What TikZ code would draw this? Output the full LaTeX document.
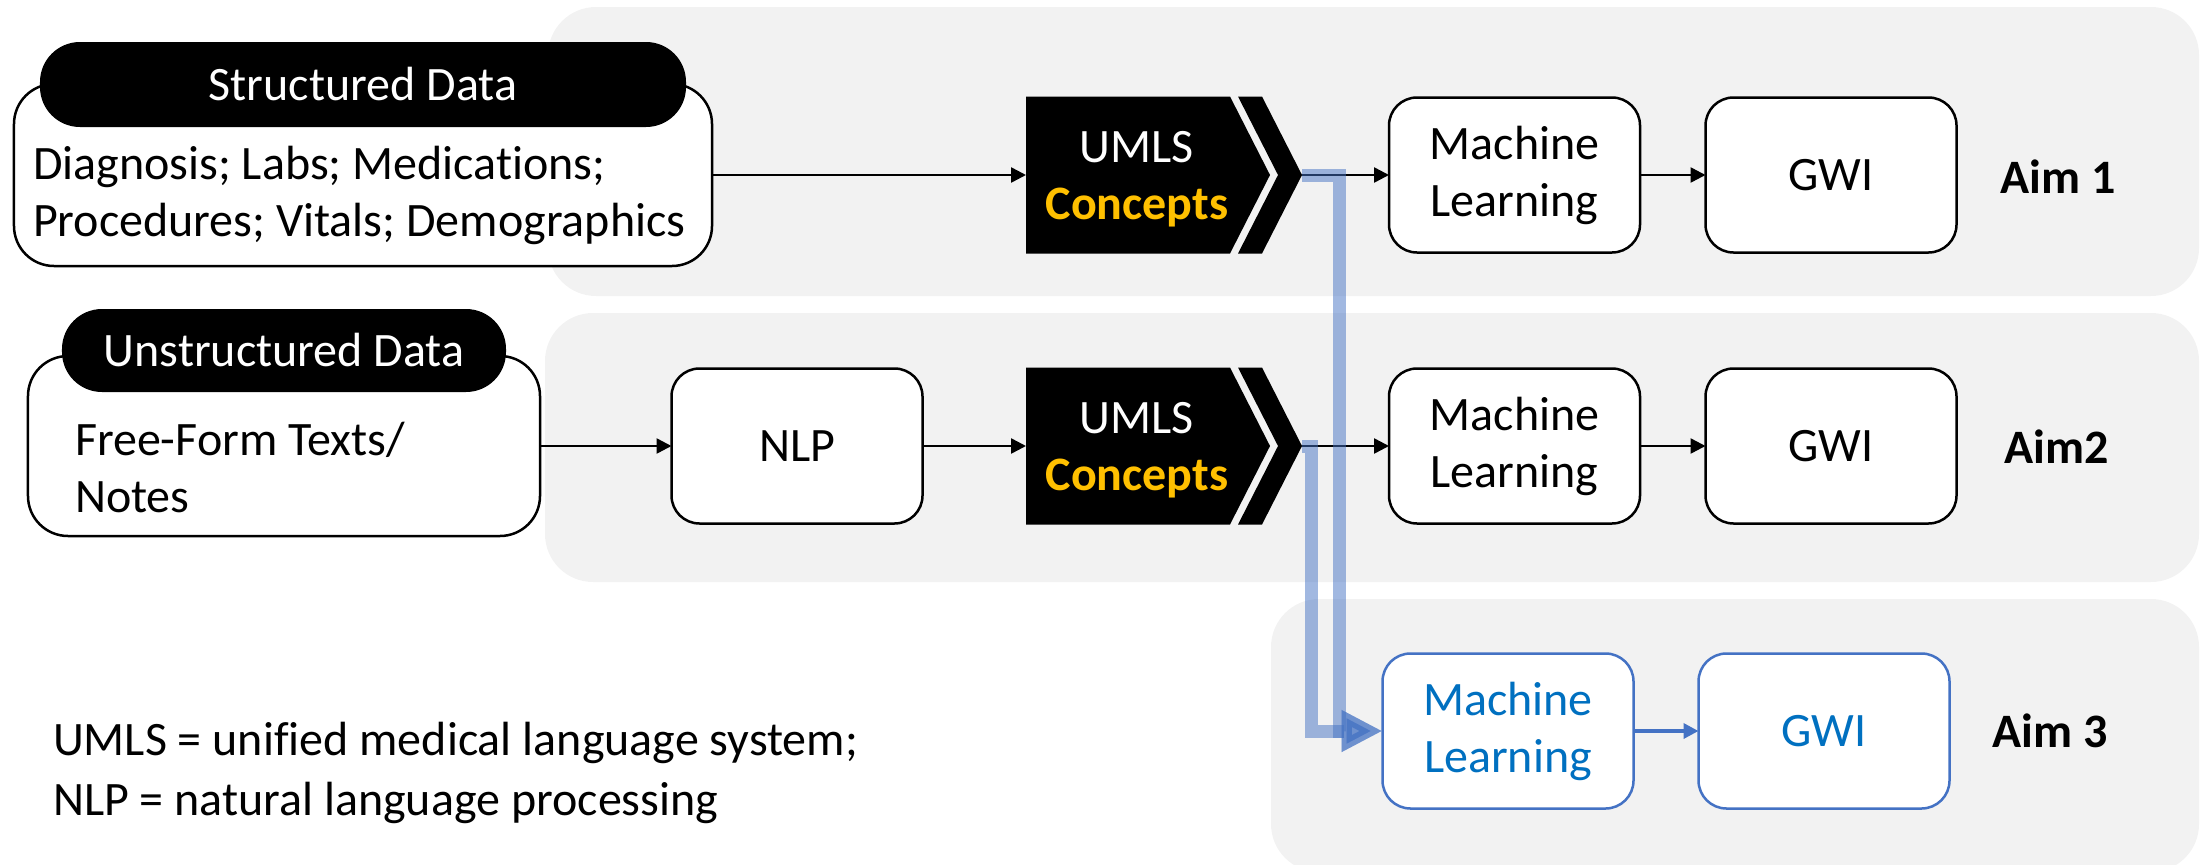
\documentclass[tikz,border=0pt]{standalone}
\usepackage{fontspec}
\setmainfont{Carlito}[Ligatures=NoCommon]
\usetikzlibrary{arrows.meta}
\definecolor{panelgray}{HTML}{F2F2F2}
\definecolor{accblue}{HTML}{4472C4}
\definecolor{txtblue}{HTML}{0070C0}
\definecolor{conceptgold}{HTML}{FFC000}
\begin{document}
\begin{tikzpicture}[x=1bp, y=-1bp,
  every node/.style={font=\fontsize{48bp}{57bp}\selectfont, inner sep=0pt, outer sep=0pt},
  panel/.style={fill=panelgray, rounded corners=48bp},
  stage/.style={draw=black, line width=2.5bp, fill=white, rounded corners=28bp,
    minimum width=251bp, minimum height=155bp, align=center},
  stageblue/.style={stage, draw=accblue, text=txtblue},
  source/.style={draw=black, line width=2.5bp, fill=white, rounded corners=40bp},
  pill/.style={fill=black, text=white, rounded corners=40bp},
  flow/.style={line width=2.5bp, -{Triangle[length=15bp,width=15bp]}},
  flowblue/.style={flow, draw=accblue, line width=3.5bp},
  merge/.style={draw=accblue, opacity=0.5, line width=13bp,
    -{Triangle[length=41bp,width=39bp]}},
  aim/.style={font=\fontsize{48bp}{57bp}\selectfont\bfseries},
  chevron/.pic={
    \fill[black] (-111,-78.5) -- (93,-78.5) -- (133,0) -- (93,78.5) -- (-111,78.5) -- cycle;
    \fill[black] (101,-78.5) -- (125,-78.5) -- (165,0) -- (125,78.5) -- (101,78.5) -- (141,0) -- cycle;
  }
]
\useasboundingbox (0,0) rectangle (2203,864);

% background bands, one per aim
\fill[panel] (548,7) rectangle (2199,296);
\fill[panel] (545,313) rectangle (2199,582);
\fill[panel] (1271,599) rectangle (2199,872);

% data sources
\node[source, minimum width=698bp, minimum height=182bp] (sbox) at (363,175) {};
\node[pill, minimum width=646bp, minimum height=85bp] (spill) at (363,84.5) {Structured Data};
\node[anchor=base west, align=left] (sitems) at (33,236) {Diagnosis; Labs; Medications;\\Procedures; Vitals; Demographics};

\node[source, minimum width=512bp, minimum height=180bp] (ubox) at (284,446) {};
\node[pill, minimum width=444bp, minimum height=83bp] (upill) at (284,350.5) {Unstructured Data};
\node[anchor=base west, align=left] (uitems) at (75,512) {Free-Form Texts/\\Notes};

\node[stage] (nlp) at (797,446) {NLP};

% UMLS concept mapping
\pic at (1137,175) {chevron};
\coordinate (c1in) at (1026,175);
\coordinate (c1out) at (1302,175);
\node[align=center, text=white] (c1txt) at (1137,179) {UMLS\\\textcolor{conceptgold}{\bfseries Concepts}};

\pic at (1137,446) {chevron};
\coordinate (c2in) at (1026,446);
\coordinate (c2out) at (1302,446);
\node[align=center, text=white] (c2txt) at (1137,450) {UMLS\\\textcolor{conceptgold}{\bfseries Concepts}};

% models and outcomes
\node[stage] (ml1) at (1514.5,175) {Machine\\Learning};
\node[stage] (gwi1) at (1831,175) {GWI};
\node[aim] (aim1) at (2058,177) {Aim 1};

\node[stage] (ml2) at (1514.5,446) {Machine\\Learning};
\node[stage] (gwi2) at (1831,446) {GWI};
\node[aim] (aim2) at (2057,447) {Aim2};

\node[stageblue] (ml3) at (1508,731) {Machine\\Learning};
\node[stageblue] (gwi3) at (1824,731) {GWI};
\node[aim] (aim3) at (2050,731) {Aim 3};

% flow connectors
\draw[flow] (sbox.east) -- (c1in);
\draw[flow] (c1out) -- (ml1.west);
\draw[flow] (ml1.east) -- (gwi1.west);
\draw[flow] (ubox.east) -- (nlp.west);
\draw[flow] (nlp.east) -- (c2in);
\draw[flow] (c2out) -- (ml2.west);
\draw[flow] (ml2.east) -- (gwi2.west);
\draw[flowblue] (ml3.east) -- (gwi3.west);

% combined concepts feeding aim 3
\coordinate (busA) at (1311,0);
\coordinate (busB) at (1339.5,0);
\draw[merge] (c2out) -| (busA |- ml3.west) -- (ml3.west);
\draw[merge] (c1out) -| (busB |- ml3.west) -- (ml3.west);

% abbreviations
\node[anchor=base west] (leg1) at (53,755) {UMLS = unified medical language system;};
\node[anchor=base west] (leg2) at (53,815) {NLP = natural language processing};
\end{tikzpicture}
\end{document}
